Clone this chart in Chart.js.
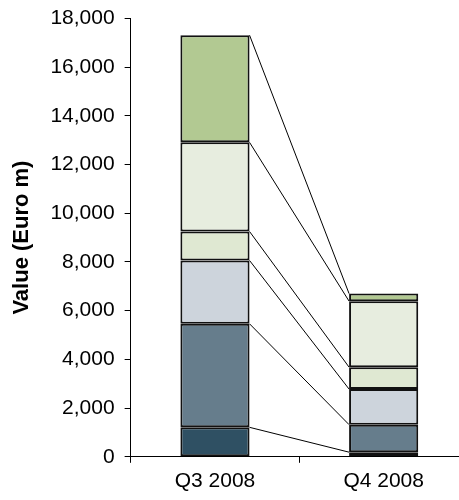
<!DOCTYPE html>
<html>
<head>
<meta charset="utf-8">
<script src="https://cdn.jsdelivr.net/npm/chart.js@4"></script>
<style>
    html, body { margin: 0; padding: 0; background: #fff; overflow: hidden; }
    #wrap { width: 468px; height: 500px; position: relative; }
</style>
</head>
<body>
<div id="wrap"><canvas id="chart"></canvas></div>
<script>
// quarters on the x axis
const quarters = ['Q3 2008', 'Q4 2008'];

// stack segments, bottom to top (Euro m)
const segment1 = [1210, 190];
const segment2 = [4250, 1130];
const segment3 = [2600, 1460];
const segment4 = [1190, 900];
const segment5 = [3660, 2710];
const segment6 = [4400, 310];

const segmentColors = ['#2f5063', '#667d8c', '#cdd4dc', '#dfe8d2', '#e7eddf', '#b2c992'];

const yMax = 18000;
const yStep = 2000;

// lines joining the top of each segment between the two bars
const connectorLines = {
    id: 'connectorLines',
    afterDatasetsDraw(chart) {
        const ctx = chart.ctx;
        ctx.save();
        ctx.strokeStyle = '#000';
        ctx.lineWidth = 1;
        chart.data.datasets.forEach((ds, i) => {
            const meta = chart.getDatasetMeta(i);
            const a = meta.data[0];
            const b = meta.data[1];
            ctx.beginPath();
            ctx.moveTo(a.x + a.width / 2, a.y);
            ctx.lineTo(b.x - b.width / 2, b.y);
            ctx.stroke();
        });
        ctx.restore();
    }
};

const allSegments = [segment1, segment2, segment3, segment4, segment5, segment6];

new Chart(document.getElementById('chart'), {
    type: 'bar',
    data: {
        labels: quarters,
        datasets: allSegments.map((vals, i) => ({
            label: 'Segment ' + (i + 1),
            data: vals,
            backgroundColor: segmentColors[i],
            borderColor: '#111',
            borderWidth: 2,
            borderSkipped: false,
            categoryPercentage: 1,
            barPercentage: 0.41
        }))
    },
    options: {
        responsive: true,
        maintainAspectRatio: false,
        animation: false,
        layout: { padding: { top: 0, left: 6, right: 0, bottom: 0 } },
        plugins: {
            legend: { display: false },
            tooltip: { enabled: false }
        },
        scales: {
            x: {
                stacked: true,
                grid: { drawOnChartArea: false, tickLength: 6, color: '#000' },
                border: { color: '#000', width: 1 },
                ticks: {
                    color: '#000',
                    padding: 6,
                    font: { family: 'Liberation Sans, Arial', size: 21 }
                }
            },
            y: {
                stacked: true,
                min: 0,
                max: yMax,
                grid: { drawOnChartArea: false, tickLength: 6, color: '#000' },
                border: { color: '#000', width: 1 },
                ticks: {
                    stepSize: yStep,
                    color: '#000',
                    padding: 10,
                    font: { family: 'Liberation Sans, Arial', size: 21, lineHeight: 0.8 },
                    callback: v => v.toLocaleString('en-US')
                },
                title: {
                    display: true,
                    text: 'Value (Euro m)',
                    color: '#000',
                    padding: { top: 3, bottom: 5 },
                    font: { family: 'Liberation Sans, Arial', size: 22, weight: 'bold' }
                }
            }
        }
    },
    plugins: [connectorLines]
});
</script>
</body>
</html>
